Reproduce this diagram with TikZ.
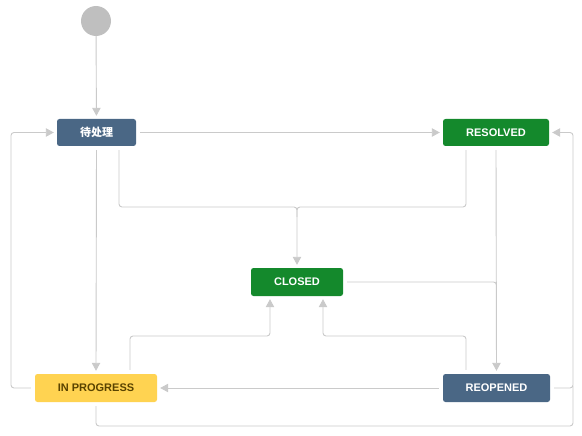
\documentclass[tikz,border=0pt]{standalone}
\usepackage{fontspec}
\setmainfont{Liberation Sans}
\newfontfamily\cjk{Noto Sans CJK SC}
\usetikzlibrary{arrows.meta}
\definecolor{jblue}{HTML}{4A6785}
\definecolor{jgreen}{HTML}{14892C}
\definecolor{jyellow}{HTML}{FFD351}
\definecolor{jbrown}{HTML}{594300}
\definecolor{lgray}{HTML}{CACACA}
\definecolor{sgray}{HTML}{BFBFBF}
\tikzset{
  state/.style={rounded corners=2.5pt, minimum height=27pt, inner sep=0pt,
    font=\fontsize{11}{13}\selectfont\bfseries, text=white},
  conn/.style={draw=lgray, line width=0.9pt, rounded corners=3pt,
    -{Triangle[length=8pt,width=8.5pt]}, shorten >=3pt, shorten <=4pt},
  plain/.style={draw=lgray, line width=0.9pt, rounded corners=3pt, shorten <=4pt},
}
\begin{document}
\begin{tikzpicture}[x=1pt,y=-1pt]
\useasboundingbox (0,0) rectangle (582,436);
\node[circle, fill=sgray, minimum size=30pt, inner sep=0pt] (start) at (96,21) {};
\node[state, fill=jblue, minimum width=79pt] (todo) at (96.5,132.5) {\cjk\bfseries 待处理};
\node[state, fill=jgreen, minimum width=106pt] (res) at (496,132.5) {RESOLVED};
\node[state, fill=jgreen, minimum width=92pt, minimum height=28pt] (clo) at (297,282) {CLOSED};
\node[state, fill=jyellow, text=jbrown, minimum width=122pt, minimum height=28pt] (inp) at (96,388) {IN PROGRESS};
\node[state, fill=jblue, minimum width=107pt, minimum height=28pt] (reo) at (496.5,388) {REOPENED};
% coordinates
\coordinate (c1) at (119,207);
\coordinate (c2) at (466,207);
\coordinate (c3) at (130,336);
\coordinate (c4) at (466,336);
\coordinate (c5) at (11,132.5);
\coordinate (c6) at (573,132.5);
\coordinate (c7) at (96,426);
\coordinate (c8) at (270,300);
\coordinate (c9) at (323,300);
% connectors
\draw[conn, shorten <=0pt] (start) -- (todo);
\draw[conn] (todo) -- (res);
\draw[conn] (todo.south -| c1) -- (c1) -- (c1 -| clo) -- (clo.north);
\draw[plain] (res.south -| c2) -- (c2) -- (c2 -| clo) -- ++(0,10);
\draw[conn] (todo.south) -- (inp.north);
\draw[conn] (res.south) -- (reo.north);
\draw[plain] (clo.east) -- (clo.east -| reo) -- ++(0,10);
\draw[conn] (inp.north -| c3) -- (c3) -- (c3 -| c8) -- (clo.south -| c8);
\draw[conn] (reo.north -| c4) -- (c4) -- (c4 -| c9) -- (clo.south -| c9);
\draw[conn] (reo.west) -- (inp.east);
\draw[conn] (inp.west) -- (inp.west -| c5) -- (c5) -- (todo.west);
\draw[conn] (reo.east) -- (reo.east -| c6) -- (c6) -- (res.east);
\draw[plain] (inp.south) -- (c7) -- (c7 -| c6) -- ++(0,-40);
\end{tikzpicture}
\end{document}
